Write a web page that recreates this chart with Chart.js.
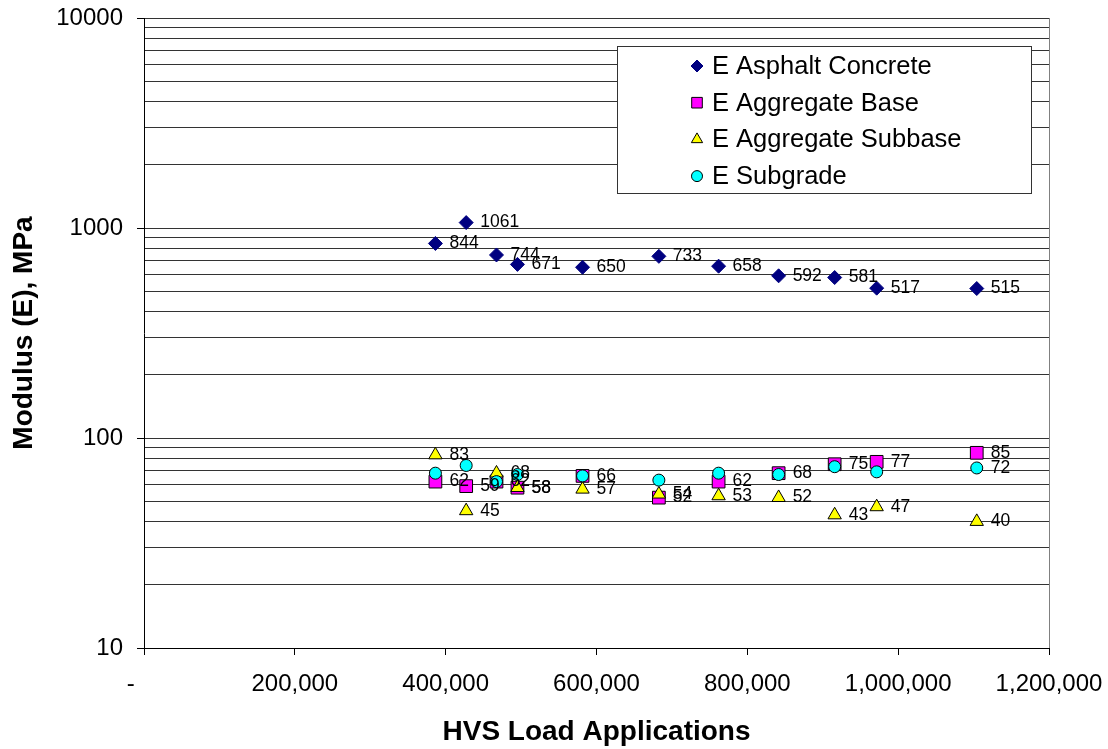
<!DOCTYPE html>
<html>
<head>
<meta charset="utf-8">
<script src="https://cdn.jsdelivr.net/npm/chart.js@4.4.1/dist/chart.umd.min.js"></script>
<style>
  html, body { margin: 0; padding: 0; background: #fff; }
  #chart { display: block; }
</style>
</head>
<body>
<canvas id="chart" width="1108" height="749"></canvas>
<script>
const loadApps = [386400, 427200, 467400, 495200, 581500, 682700, 761900, 841500, 915800, 971500, 1104200];
const eAsphalt = [844, 1061, 744, 671, 650, 733, 658, 592, 581, 517, 515];
const eBase = [62, 59, 62, 58, 66, 52, 62, 68, 75, 77, 85];
const eSubbase = [83, 45, 68, 58, 57, 54, 53, 52, 43, 47, 40];
const eSubgrade = [68, 74, 62, 67, 66, 63, 68, 67, 73, 69, 72];
const subgradeLabelled = [10]; // only the last subgrade point shows its value

const xTicks = [0, 200000, 400000, 600000, 800000, 1000000, 1200000];
const yTicks = [10, 20, 30, 40, 50, 60, 70, 80, 90,
                100, 200, 300, 400, 500, 600, 700, 800, 900,
                1000, 2000, 3000, 4000, 5000, 6000, 7000, 8000, 9000, 10000];
const yMajors = [10, 100, 1000, 10000];

const FONT = "'Liberation Sans', Arial, sans-serif";

const pts = vals => vals.map((v, i) => ({ x: loadApps[i], y: v }));
const commas = v => String(v).replace(/\B(?=(\d{3})+(?!\d))/g, ",");

// value labels to the right of each marker
const valueLabels = {
    id: "valueLabels",
    afterDatasetsDraw(chart) {
        const c = chart.ctx;
        c.save();
        c.font = "17.5px " + FONT;
        c.fillStyle = "#000";
        c.textAlign = "left";
        c.textBaseline = "middle";
        chart.data.datasets.forEach((ds, d) => {
            const meta = chart.getDatasetMeta(d);
            meta.data.forEach((el, i) => {
                if (ds.labelOnly && !ds.labelOnly.includes(i)) return;
                c.fillText(String(ds.data[i].y), el.x + 14, el.y);
            });
        });
        c.restore();
    }
};

// grey right edge of the plot area and the boxed legend
const frameAndLegend = {
    id: "frameAndLegend",
    beforeDatasetsDraw(chart) {
        const a = chart.chartArea;
        const c = chart.ctx;
        c.save();
        c.strokeStyle = "#808080";
        c.lineWidth = 1;
        c.beginPath();
        c.moveTo(Math.round(a.right) + 0.5, a.top);
        c.lineTo(Math.round(a.right) + 0.5, a.bottom);
        c.stroke();
        c.restore();
    },
    afterDraw(chart) {
        const c = chart.ctx;
        c.save();
        c.fillStyle = "#fff";
        c.strokeStyle = "#333";
        c.lineWidth = 1;
        c.fillRect(617.5, 46.5, 414, 147);
        c.strokeRect(617.5, 46.5, 414, 147);
        chart.data.datasets.forEach((ds, i) => {
            const y = 66 + i * 36.7;
            c.fillStyle = ds.backgroundColor;
            c.strokeStyle = ds.borderColor;
            c.lineWidth = ds.borderWidth;
            Chart.helpers.drawPoint(c, { pointStyle: ds.pointStyle, radius: ds.legendRadius, borderWidth: ds.borderWidth, rotation: 0 }, 697, y);
            c.fillStyle = "#000";
            c.font = "25.5px " + FONT;
            c.textAlign = "left";
            c.textBaseline = "middle";
            c.fillText(ds.label, 712, y + 1);
        });
        c.restore();
    }
};

new Chart(document.getElementById("chart"), {
    type: "scatter",
    data: {
        datasets: [
            { label: "E Asphalt Concrete", data: pts(eAsphalt), pointStyle: "rectRot", pointRadius: 7, legendRadius: 6,
              backgroundColor: "#000080", borderColor: "#000080", borderWidth: 1, order: 4 },
            { label: "E Aggregate Base", data: pts(eBase), pointStyle: "rect", pointRadius: 9, legendRadius: 7.5,
              backgroundColor: "#ff00ff", borderColor: "#000", borderWidth: 1, order: 3 },
            { label: "E Aggregate Subbase", data: pts(eSubbase), pointStyle: "triangle", pointRadius: 7.7, legendRadius: 6.5,
              backgroundColor: "#ffff00", borderColor: "#000", borderWidth: 1, order: 2 },
            { label: "E Subgrade", data: pts(eSubgrade), pointStyle: "circle", pointRadius: 6, legendRadius: 5.5,
              backgroundColor: "#00ffff", borderColor: "#000", borderWidth: 1, order: 1, labelOnly: subgradeLabelled }
        ]
    },
    options: {
        responsive: false,
        animation: false,
        devicePixelRatio: 1,
        layout: { padding: { left: 0, top: 18, right: 59, bottom: 0 } },
        plugins: { legend: { display: false }, tooltip: { enabled: false } },
        scales: {
            x: {
                type: "linear",
                min: 0,
                max: 1200000,
                afterBuildTicks: s => { s.ticks = xTicks.map(v => ({ value: v })); },
                afterFit: s => { s.height = 101; s.paddingLeft = 0; s.paddingRight = 0; },
                ticks: {
                    callback: v => v === 0 ? "-    " : commas(v),
                    font: { family: FONT, size: 24 },
                    color: "#000",
                    padding: 15,
                    maxRotation: 0,
                    autoSkip: false
                },
                grid: { drawOnChartArea: false, tickLength: 7, tickColor: "#000" },
                border: { color: "#000", width: 1 },
                title: {
                    display: true,
                    text: "HVS Load Applications",
                    font: { family: FONT, size: 28, weight: "bold" },
                    color: "#000",
                    padding: { top: 0, bottom: 0 }
                }
            },
            y: {
                type: "logarithmic",
                min: 10,
                max: 10000,
                afterBuildTicks: s => { s.ticks = yTicks.map(v => ({ value: v })); },
                afterFit: s => { s.width = 144; s.paddingTop = 0; s.paddingBottom = 0; },
                ticks: {
                    callback: v => yMajors.includes(v) ? String(v) : "",
                    font: { family: FONT, size: 24 },
                    color: "#000",
                    padding: 14,
                    autoSkip: false
                },
                grid: {
                    color: "#333",
                    tickLength: 7,
                    tickColor: c => (c.tick && yMajors.includes(c.tick.value)) ? "#000" : "rgba(0,0,0,0)"
                },
                border: { color: "#000", width: 1 },
                title: {
                    display: true,
                    text: "Modulus (E), MPa",
                    font: { family: FONT, size: 28, weight: "bold" },
                    color: "#000",
                    padding: { top: 7, bottom: 0 }
                }
            }
        }
    },
    plugins: [valueLabels, frameAndLegend]
});
</script>
</body>
</html>
